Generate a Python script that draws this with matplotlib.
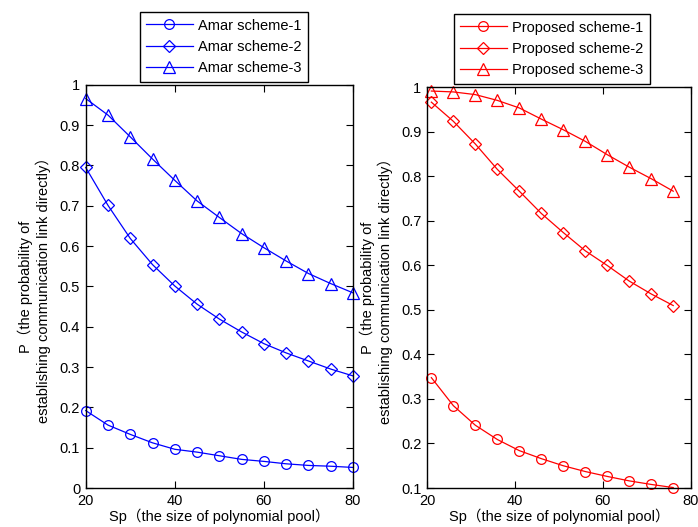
import matplotlib
matplotlib.use("Agg")
import matplotlib.pyplot as plt

plt.rcParams['font.family'] = ['Liberation Sans', 'Noto Sans CJK SC', 'DejaVu Sans']
plt.rcParams['font.size'] = 10.5

# Pool sizes
sp_amar = [20, 25, 30, 35, 40, 45, 50, 55, 60, 65, 70, 75, 80]
sp_prop = [21, 26, 31, 36, 41, 46, 51, 56, 61, 66, 71, 76]

# Probability of establishing a direct link
amar_1 = [0.192, 0.156, 0.133, 0.112, 0.096, 0.089, 0.080, 0.071, 0.066, 0.060, 0.056, 0.054, 0.051]
amar_2 = [0.795, 0.701, 0.619, 0.554, 0.501, 0.456, 0.419, 0.387, 0.358, 0.335, 0.315, 0.295, 0.278]
amar_3 = [0.966, 0.925, 0.871, 0.816, 0.763, 0.712, 0.671, 0.631, 0.596, 0.563, 0.532, 0.507, 0.484]

prop_1 = [0.348, 0.285, 0.241, 0.209, 0.184, 0.166, 0.150, 0.137, 0.126, 0.116, 0.108, 0.101]
prop_2 = [0.967, 0.924, 0.873, 0.816, 0.767, 0.717, 0.674, 0.633, 0.600, 0.565, 0.536, 0.510]
prop_3 = [0.992, 0.990, 0.984, 0.971, 0.954, 0.929, 0.905, 0.879, 0.849, 0.821, 0.795, 0.767]

amar_labels = ['Amar scheme-1', 'Amar scheme-2', 'Amar scheme-3']
prop_labels = ['Proposed scheme-1', 'Proposed scheme-2', 'Proposed scheme-3']

left_yticks = [0, 0.1, 0.2, 0.3, 0.4, 0.5, 0.6, 0.7, 0.8, 0.9, 1]
left_yticklabels = ['0', '0.1', '0.2', '0.3', '0.4', '0.5', '0.6', '0.7', '0.8', '0.9', '1']
right_yticks = [0.1, 0.2, 0.3, 0.4, 0.5, 0.6, 0.7, 0.8, 0.9, 1]
right_yticklabels = ['0.1', '0.2', '0.3', '0.4', '0.5', '0.6', '0.7', '0.8', '0.9', '1']
xticks = [20, 40, 60, 80]

ylabel = 'P（the probability of\nestablishing communication link directly）'
xlabel = 'Sp（the size of polynomial pool）'

fig = plt.figure(figsize=(6.98, 5.27), dpi=100)
ax1 = fig.add_axes([0.1228, 0.074, 0.383, 0.765])
ax2 = fig.add_axes([0.6117, 0.074, 0.378, 0.760])

markers = ['o', 'D', '^']
msizes = [7, 6, 8.5]


def draw(ax, x, series, labels, color):
    handles = []
    for y, m, ms, lab in zip(series, markers, msizes, labels):
        h, = ax.plot(x, y, color=color, lw=0.9, marker=m, ms=ms,
                     mfc='none', mec=color, mew=0.9, label=lab, clip_on=False)
        handles.append(h)
    ax.set_xlim(20, 80)
    ax.set_xticks(xticks)
    ax.set_xticklabels([str(v) for v in xticks])
    ax.tick_params(direction='in', top=True, right=True, length=5, width=0.8,
                   labelsize=10.5, pad=4)
    for s in ax.spines.values():
        s.set_linewidth(1.0)
        s.set_color('black')
    ax.set_xlabel(xlabel, fontsize=10.5, labelpad=1)
    ax.set_ylabel(ylabel, fontsize=10.5, labelpad=6)
    return handles


draw(ax1, sp_amar, [amar_1, amar_2, amar_3], amar_labels, '#0000ff')
ax1.set_ylim(0, 1)
ax1.set_yticks(left_yticks)
ax1.set_yticklabels(left_yticklabels)

draw(ax2, sp_prop, [prop_1, prop_2, prop_3], prop_labels, '#ff0000')
ax2.set_ylim(0.1, 1)
ax2.set_yticks(right_yticks)
ax2.set_yticklabels(right_yticklabels)

leg_kw = dict(loc='upper left', bbox_transform=fig.transFigure, fancybox=False,
              edgecolor='black', framealpha=1, fontsize=10.5, handlelength=3.2,
              handletextpad=0.35, labelspacing=0.5, borderpad=0.45,
              borderaxespad=0)
l1 = ax1.legend(bbox_to_anchor=(139.5 / 698, 1 - 12 / 527), **leg_kw)
l2 = ax2.legend(bbox_to_anchor=(453.5 / 698, 1 - 14 / 527), **leg_kw)
for l in (l1, l2):
    l.get_frame().set_linewidth(1.0)

fig.savefig('out.png', dpi=100)
